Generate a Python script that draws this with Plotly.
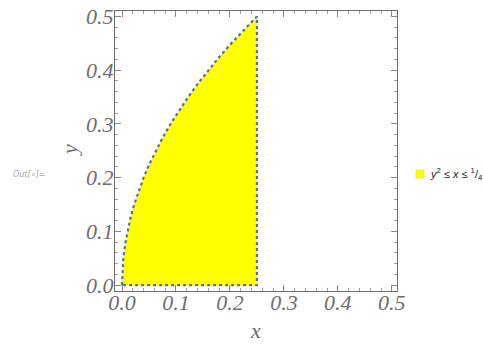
import plotly.graph_objects as go

# boundary of the region y^2 <= x <= 1/4, 0 <= y
curve_y = [0.0, 0.025, 0.05, 0.075, 0.1, 0.125, 0.15, 0.175, 0.2, 0.225, 0.25,
           0.275, 0.3, 0.325, 0.35, 0.375, 0.4, 0.425, 0.45, 0.475, 0.5]
curve_x = [0.0, 0.000625, 0.0025, 0.005625, 0.01, 0.015625, 0.0225, 0.030625, 0.04,
           0.050625, 0.0625, 0.075625, 0.09, 0.105625, 0.1225, 0.140625, 0.16,
           0.180625, 0.2025, 0.225625, 0.25]
right_x = [0.25, 0.25]
right_y = [0.5, 0.0]
bottom_x = [0.25, 0.0]
bottom_y = [0.0, 0.0]
legend_label = "<i>y</i><sup>2</sup> ≤ <i>x</i> ≤ <sup>1</sup>/<sub>4</sub>"
x_ticks = [0.0, 0.1, 0.2, 0.3, 0.4, 0.5]
y_ticks = [0.0, 0.1, 0.2, 0.3, 0.4, 0.5]

region_x = curve_x + right_x + bottom_x
region_y = curve_y + right_y + bottom_y

fig = go.Figure()
fig.add_trace(go.Scatter(
    x=region_x, y=region_y, fill="toself", fillcolor="#FFFF00",
    mode="lines", line=dict(width=0, color="#FFFF00"),
    showlegend=False, hoverinfo="skip"))
fig.add_trace(go.Scatter(
    x=region_x, y=region_y, mode="lines",
    line=dict(color="#5070B8", width=2.2, dash="3px,3px"),
    showlegend=False, hoverinfo="skip"))

tickfont = dict(family="Liberation Serif", size=22, color="#6E6E6E", style="italic")
axis_common = dict(
    showgrid=False, zeroline=False, showline=True, linecolor="#6E6E6E", linewidth=1,
    mirror="allticks", ticks="inside", ticklen=6, tickwidth=1, tickcolor="#8A8A8A",
    tickfont=tickfont, tickformat=".1f", automargin=False,
    minor=dict(ticks="inside", ticklen=3, dtick=0.02, tickcolor="#A0A0A0", showgrid=False),
)
fig.update_xaxes(range=[-0.013, 0.5096], tickvals=x_ticks, ticklabelstandoff=-8, **axis_common)
fig.update_yaxes(range=[-0.011, 0.5102], tickvals=y_ticks, ticklabelstandoff=-4, **axis_common)

def px(xp):
    return (xp - 115) / 282

def py(yp):
    return (291 - yp) / 280

# axis titles
fig.add_annotation(xref="paper", yref="paper", x=px(255), y=py(330),
                   xanchor="center", yanchor="middle",
                   text="x", showarrow=False, font=tickfont)
fig.add_annotation(xref="paper", yref="paper", x=px(69), y=py(150),
                   xanchor="center", yanchor="middle",
                   text="y", showarrow=False, font=tickfont, textangle=-90)
# cell label
fig.add_annotation(xref="paper", yref="paper", x=px(11), y=py(175),
                   xanchor="left", yanchor="middle", text="Out[∘]=", showarrow=False,
                   font=dict(family="DejaVu Sans", size=8, color="#A8A8A8", style="italic"))
# legend
fig.add_shape(type="rect", xref="paper", yref="paper",
              x0=px(416), x1=px(424), y0=py(178), y1=py(170),
              fillcolor="#FFFF00", line=dict(color="#E0E000", width=0.5))
fig.add_annotation(xref="paper", yref="paper", x=px(428), y=py(174),
                   xanchor="left", yanchor="middle", text=legend_label, showarrow=False,
                   font=dict(family="Liberation Sans", size=11, color="#222222"))

fig.update_layout(
    width=483, height=344, margin=dict(l=115, r=86, t=11, b=53, autoexpand=False),
    plot_bgcolor="white", paper_bgcolor="white", showlegend=False,
)
fig.write_html("out.html", config={"displayModeBar": False},
               post_script="document.body.style.margin='0';")
